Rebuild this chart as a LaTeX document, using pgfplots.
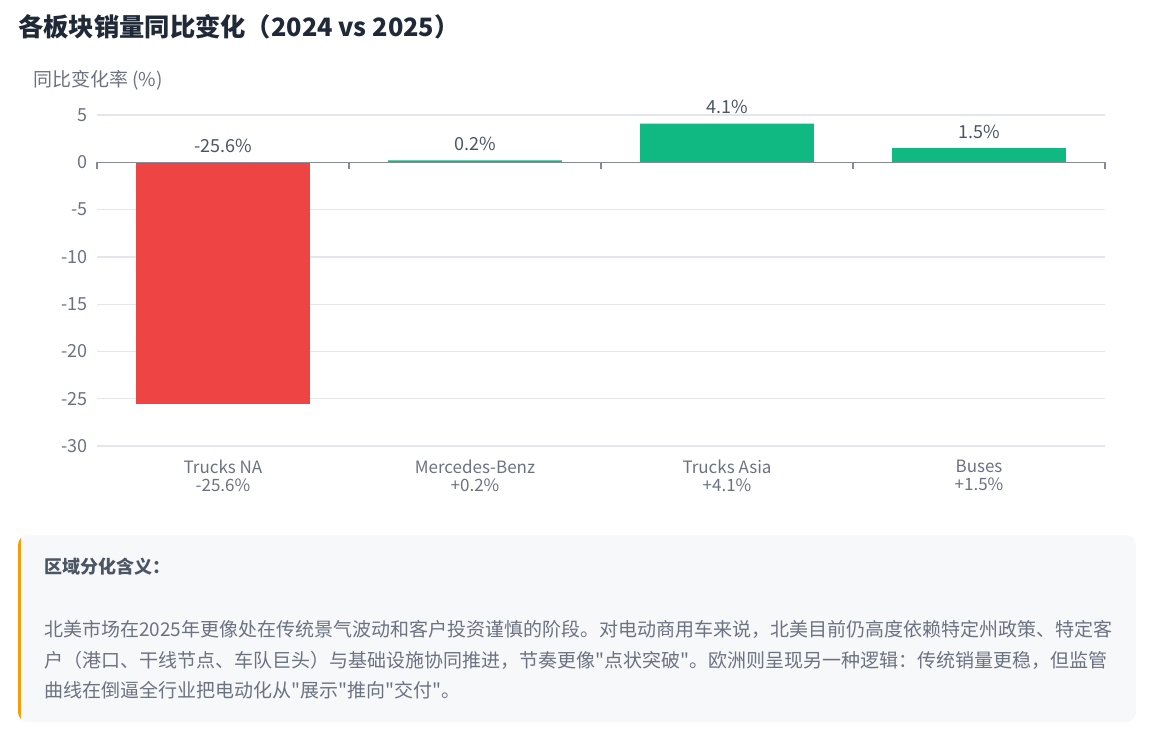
\documentclass[border=0pt]{standalone}
\usepackage{fontspec}
\usepackage{pgfplots}
\pgfplotsset{compat=1.18}
\setmainfont{Noto Sans CJK SC}[Ligatures=TeXOff]
\definecolor{titlec}{HTML}{1F2937}
\definecolor{graytxt}{HTML}{6B7280}
\definecolor{valc}{HTML}{4B5563}
\definecolor{gridc}{HTML}{E4E6EE}
\definecolor{axisc}{HTML}{858A94}
\definecolor{redbar}{HTML}{EF4444}
\definecolor{greenbar}{HTML}{10B981}
\definecolor{boxbg}{HTML}{F7F8FA}
\definecolor{orangec}{HTML}{F59E0B}
\definecolor{boxtitle}{HTML}{4B5563}
\begin{document}
\begin{tikzpicture}[x=1pt,y=1pt]
\path[use as bounding box] (0,0) rectangle (1158,-745);
\node[anchor=west, font=\fontsize{25.3}{30}\selectfont\bfseries, text=titlec, inner sep=0] at (18,-27) {各板块销量同比变化（2024 vs 2025）};
\node[anchor=west, font=\fontsize{19}{22}\selectfont, text=graytxt, inner sep=0] at (33,-80) {同比变化率 (\%)};

\begin{axis}[
  at={(97pt,-446pt)}, anchor=south west,
  scale only axis, width=1008pt, height=331pt,
  xmin=-0.5, xmax=3.5, ymin=-30, ymax=5,
  axis line style={draw=none},
  major tick length=0pt,
  clip=false,
  ytick={-30,-25,-20,-15,-10,-5,0,5},
  yticklabels={-30,-25,-20,-15,-10,-5,0,5},
  yticklabel style={font=\fontsize{18}{20}\selectfont, text=graytxt, xshift=-6pt},
  ymajorgrids,
  grid style={color=gridc, line width=1.3pt},
  xtick={0,1,2,3},
  xticklabels={{Trucks NA\\-25.6\%},{Mercedes-Benz\\+0.2\%},{Trucks Asia\\+4.1\%},{Buses\\+1.5\%}},
  xticklabel style={align=center, font=\fontsize{17}{18}\selectfont, text=graytxt, yshift=-10pt},
]
\addplot[ybar, bar width=0.69, fill=redbar, draw=none] coordinates {(0,-25.6)};
\addplot[ybar, bar width=0.69, fill=greenbar, draw=none] coordinates {(1,0.2) (2,4.1) (3,1.5)};
\draw[axisc, line width=1.5pt] (axis cs:-0.5,0) -- (axis cs:3.5,0);
\pgfplotsinvokeforeach{-0.5,0.5,1.5,2.5,3.5}{
  \draw[axisc, line width=1.2pt] (axis cs:#1,0) -- ++(0pt,-7pt);
}
\addplot[draw=none, nodes near coords, point meta=explicit symbolic,
  nodes near coords style={font=\fontsize{18}{20}\selectfont, text=valc, anchor=south, yshift=6pt}]
  coordinates {(0,0) [-25.6\%] (1,0.2) [0.2\%] (2,4.1) [4.1\%] (3,1.5) [1.5\%]};
\end{axis}

\begin{scope}
\clip[rounded corners=10pt] (18,-535) rectangle (1136,-722);
\fill[boxbg] (18,-535) rectangle (1136,-722);
\fill[orangec] (18,-535) rectangle (21,-722);
\end{scope}
\node[anchor=west, inner sep=0, font=\fontsize{18}{22}\selectfont\bfseries, text=boxtitle] at (44,-567) {区域分化含义：};
\node[anchor=west, inner sep=0, font=\fontsize{19}{22}\selectfont, text=graytxt] at (44,-629) {北美市场在2025年更像处在传统景气波动和客户投资谨慎的阶段。对电动商用车来说，北美目前仍高度依赖特定州政策、特定客};
\node[anchor=west, inner sep=0, font=\fontsize{19}{22}\selectfont, text=graytxt] at (44,-660) {户（港口、干线节点、车队巨头）与基础设施协同推进，节奏更像"点状突破"。欧洲则呈现另一种逻辑：传统销量更稳，但监管};
\node[anchor=west, inner sep=0, font=\fontsize{19}{22}\selectfont, text=graytxt] at (44,-690) {曲线在倒逼全行业把电动化从"展示"推向"交付"。};
\end{tikzpicture}
\end{document}
